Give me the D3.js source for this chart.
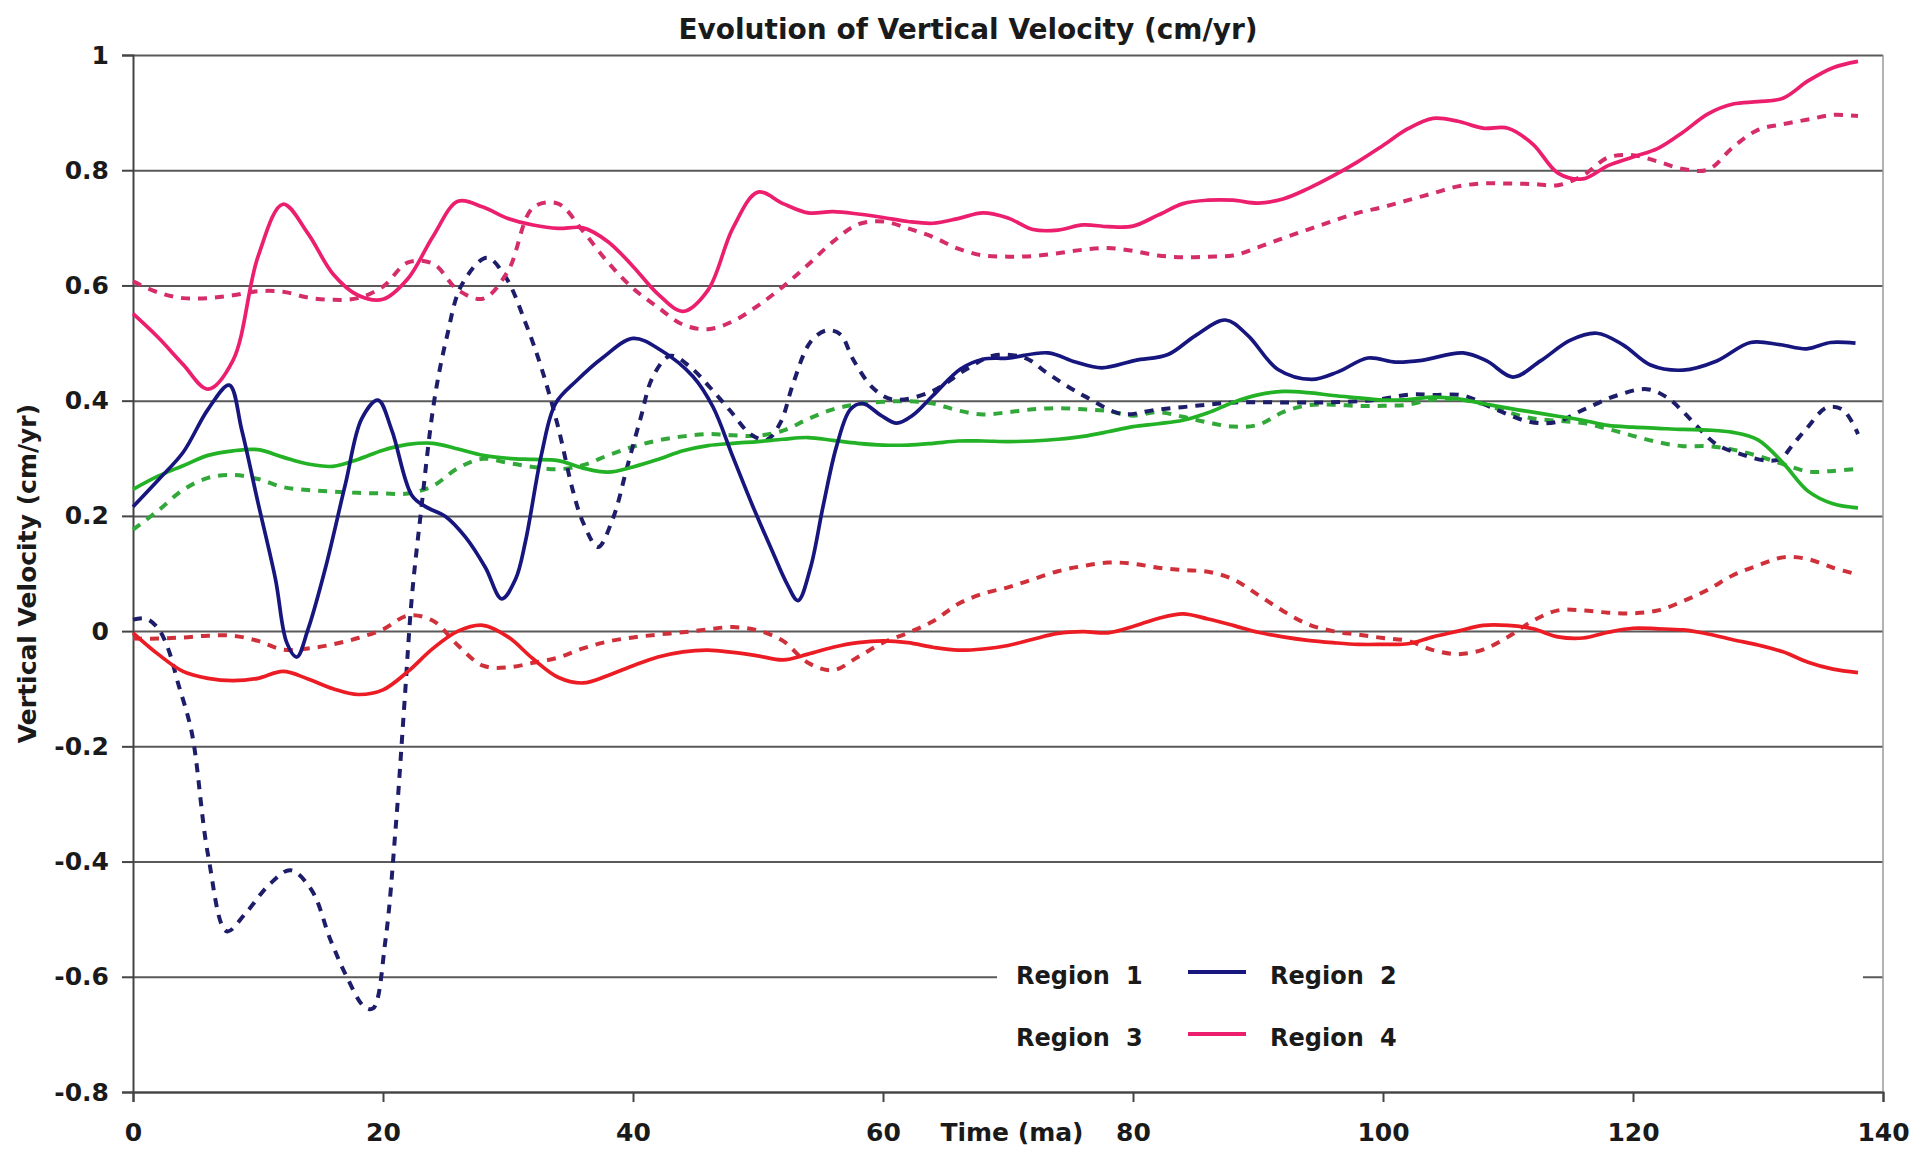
<!DOCTYPE html>
<html>
<head>
<meta charset="utf-8">
<script src="https://cdn.jsdelivr.net/npm/d3@7"></script>
<style>
    body { margin: 0; background: #fff; }
    text { font-family: "DejaVu Sans", Verdana, sans-serif; fill: #1a1a1a; font-weight: bold; }
</style>
</head>
<body>
<script>
// time steps (ma) shared by the smoother series
const timeGrid = [0, 2, 4, 6, 8, 10, 12, 14, 16, 18, 20, 22, 24, 26, 28, 30, 32, 34, 36, 38,
    40, 42, 44, 46, 48, 50, 52, 54, 56, 58, 60, 62, 64, 66, 68, 70, 72, 74, 76, 78,
    80, 82, 84, 86, 88, 90, 92, 94, 96, 98, 100, 102, 104, 106, 108, 110, 112, 114, 116, 118,
    120, 122, 124, 126, 128, 130, 132, 134, 136, 138];

const region1Solid = [0.246, 0.269, 0.287, 0.305, 0.313, 0.315, 0.302, 0.290, 0.286, 0.298,
    0.314, 0.324, 0.326, 0.316, 0.305, 0.300, 0.298, 0.296, 0.283, 0.276,
    0.285, 0.298, 0.313, 0.322, 0.326, 0.329, 0.333, 0.336, 0.331, 0.326,
    0.323, 0.323, 0.326, 0.330, 0.330, 0.329, 0.330, 0.333, 0.338, 0.346,
    0.355, 0.360, 0.366, 0.379, 0.397, 0.410, 0.416, 0.414, 0.409, 0.405,
    0.401, 0.402, 0.406, 0.403, 0.395, 0.387, 0.380, 0.373, 0.366, 0.357,
    0.354, 0.352, 0.350, 0.349, 0.345, 0.332, 0.292, 0.243, 0.221, 0.214];

const region1Dashed = [0.176, 0.209, 0.245, 0.266, 0.271, 0.264, 0.250, 0.245, 0.242, 0.240,
    0.239, 0.239, 0.252, 0.283, 0.299, 0.292, 0.285, 0.281, 0.288, 0.305,
    0.320, 0.331, 0.338, 0.342, 0.340, 0.339, 0.348, 0.368, 0.385, 0.394,
    0.398, 0.399, 0.395, 0.383, 0.376, 0.380, 0.385, 0.387, 0.385, 0.382,
    0.374, 0.380, 0.372, 0.362, 0.355, 0.358, 0.380, 0.392, 0.393, 0.391,
    0.391, 0.393, 0.402, 0.402, 0.394, 0.380, 0.369, 0.365, 0.361, 0.351,
    0.339, 0.328, 0.321, 0.321, 0.315, 0.304, 0.290, 0.277, 0.278, 0.282];

const region2SolidTime = [0, 2, 4, 6, 7.7, 8.7, 10, 11.4, 12.3, 13.1, 14, 15.4, 17, 18.3, 19.6,
    20.7, 22.3, 23.4, 25, 26.6, 28.2, 29.5, 30.6, 31.4, 32.7, 33.8, 35.5, 37.6, 40, 42.2,
    44.8, 46.4, 48, 49.6, 51.2, 52.3, 53.2, 54.2, 55.2, 56.3, 57.4, 58.4, 59.8, 61.1, 62.4,
    64, 66.2, 68, 70, 73.2, 75.4, 77.5, 80.2, 82.8, 85, 87.4, 89.2, 91.6, 94.3, 96.4,
    98.8, 101, 103.1, 106.4, 108.3, 110.4, 112.6, 115, 117.1, 119.2, 121.4, 124, 126.7, 129.4,
    131.8, 133.9, 135.8, 137.8];
const region2Solid = [0.216, 0.262, 0.310, 0.385, 0.427, 0.349, 0.223, 0.090, -0.020, -0.045, 0.003, 0.110, 0.256, 0.369, 0.401,
    0.349, 0.236, 0.216, 0.199, 0.163, 0.110, 0.056, 0.090, 0.156, 0.309, 0.395, 0.435, 0.475, 0.508, 0.488,
    0.442, 0.389, 0.302, 0.216, 0.136, 0.083, 0.053, 0.110, 0.216, 0.322, 0.385, 0.395, 0.375, 0.361, 0.375,
    0.409, 0.455, 0.472, 0.474, 0.483, 0.467, 0.457, 0.470, 0.480, 0.513, 0.540, 0.513, 0.454, 0.437, 0.450,
    0.474, 0.467, 0.470, 0.483, 0.469, 0.441, 0.469, 0.505, 0.517, 0.497, 0.462, 0.453, 0.469, 0.501,
    0.497, 0.490, 0.501, 0.500];

const region2DashedTime = [0, 1, 2, 2.8, 3.6, 4.7, 6, 7.5, 9, 10.9, 12.6, 14.3, 15.8, 17.1, 18.5,
    19.2, 20.2, 21, 21.7, 22.3, 23, 24.1, 25.1, 26.3, 28.3, 29.8, 31.4, 32.7, 34, 35.2,
    36, 37.2, 38.4, 39.5, 40.6, 41.6, 43, 44.6, 46.2, 47.8, 49.4, 50.7, 51.8, 52.8, 54.2,
    55.5, 56.6, 57.6, 59.2, 60.8, 63.8, 66.7, 68.8, 71.4, 73, 74.6, 76.2, 79.1, 81.8, 85,
    88.2, 91.6, 95.6, 99.6, 102.3, 104, 106.4, 109.1, 111.8, 113.9, 116, 118.7, 121.1, 122.7, 124,
    125.1, 126.7, 128.8, 130.7, 131.8, 132.8, 133.9, 135.5, 136.8, 138];
const region2Dashed = [0.020, 0.022, 0.005, -0.030, -0.090, -0.176, -0.388, -0.521, -0.490, -0.440, -0.415, -0.450, -0.536, -0.600, -0.652,
    -0.655, -0.536, -0.345, -0.130, 0.057, 0.200, 0.400, 0.510, 0.601, 0.648, 0.615, 0.535, 0.455, 0.355, 0.243,
    0.189, 0.146, 0.196, 0.282, 0.369, 0.442, 0.478, 0.458, 0.422, 0.382, 0.342, 0.332, 0.362, 0.429, 0.502,
    0.522, 0.515, 0.472, 0.422, 0.402, 0.415, 0.455, 0.478, 0.474, 0.450, 0.427, 0.407, 0.377, 0.384, 0.391,
    0.397, 0.397, 0.397, 0.402, 0.411, 0.410, 0.409, 0.384, 0.363, 0.363, 0.384, 0.409, 0.420, 0.406, 0.381,
    0.356, 0.324, 0.306, 0.296, 0.299, 0.324, 0.352, 0.388, 0.384, 0.342];

const region3Solid = [-0.003, -0.040, -0.070, -0.082, -0.086, -0.082, -0.070, -0.083, -0.100, -0.110,
    -0.102, -0.070, -0.030, 0.000, 0.010, -0.010, -0.048, -0.080, -0.090, -0.077,
    -0.060, -0.045, -0.036, -0.033, -0.037, -0.043, -0.050, -0.040, -0.028, -0.020,
    -0.017, -0.020, -0.028, -0.033, -0.031, -0.025, -0.014, -0.004, -0.001, -0.003,
    0.008, 0.022, 0.030, 0.021, 0.010, -0.002, -0.010, -0.016, -0.020, -0.023,
    -0.023, -0.022, -0.010, 0.000, 0.010, 0.010, 0.004, -0.010, -0.012, -0.002,
    0.005, 0.004, 0.002, -0.005, -0.015, -0.024, -0.036, -0.054, -0.066, -0.072];

const region3Dashed = [-0.013, -0.013, -0.011, -0.008, -0.008, -0.017, -0.032, -0.030, -0.023, -0.012,
    0.003, 0.027, 0.018, -0.025, -0.060, -0.063, -0.055, -0.046, -0.030, -0.018,
    -0.011, -0.006, -0.002, 0.003, 0.007, 0.001, -0.017, -0.055, -0.068, -0.045,
    -0.020, -0.003, 0.017, 0.047, 0.065, 0.076, 0.090, 0.104, 0.113, 0.119,
    0.117, 0.110, 0.106, 0.103, 0.090, 0.063, 0.035, 0.012, 0.000, -0.006,
    -0.012, -0.017, -0.033, -0.040, -0.032, -0.010, 0.018, 0.036, 0.036, 0.032,
    0.031, 0.036, 0.052, 0.072, 0.097, 0.114, 0.128, 0.125, 0.110, 0.098];

const region4Solid = [0.551, 0.510, 0.463, 0.420, 0.470, 0.650, 0.741, 0.690, 0.620, 0.583,
    0.576, 0.612, 0.685, 0.746, 0.736, 0.716, 0.705, 0.699, 0.700, 0.676,
    0.633, 0.585, 0.555, 0.592, 0.700, 0.762, 0.742, 0.726, 0.728, 0.724,
    0.718, 0.711, 0.708, 0.716, 0.726, 0.717, 0.697, 0.696, 0.705, 0.702,
    0.703, 0.722, 0.742, 0.748, 0.748, 0.743, 0.750, 0.768, 0.790, 0.815,
    0.843, 0.872, 0.890, 0.885, 0.873, 0.873, 0.845, 0.795, 0.785, 0.808,
    0.823, 0.838, 0.866, 0.898, 0.915, 0.919, 0.925, 0.955, 0.978, 0.989];

const region4Dashed = [0.607, 0.588, 0.578, 0.578, 0.583, 0.590, 0.589, 0.579, 0.575, 0.578,
    0.598, 0.640, 0.638, 0.592, 0.577, 0.625, 0.735, 0.742, 0.694, 0.640,
    0.595, 0.562, 0.532, 0.524, 0.538, 0.565, 0.598, 0.636, 0.676, 0.706,
    0.711, 0.699, 0.684, 0.664, 0.652, 0.650, 0.651, 0.656, 0.662, 0.665,
    0.660, 0.652, 0.649, 0.650, 0.652, 0.666, 0.682, 0.697, 0.712, 0.726,
    0.736, 0.748, 0.760, 0.772, 0.777, 0.777, 0.776, 0.774, 0.791, 0.822,
    0.826, 0.815, 0.802, 0.801, 0.840, 0.870, 0.880, 0.888, 0.896, 0.894];

const xTicks = [0, 20, 40, 60, 80, 100, 120, 140];
const yTicks = [1, 0.8, 0.6, 0.4, 0.2, 0, -0.2, -0.4, -0.6, -0.8];
const yTickLabels = ['1', '0.8', '0.6', '0.4', '0.2', '0', '-0.2', '-0.4', '-0.6', '-0.8'];
const legendLabels = ['Region', 'Region', 'Region', 'Region'];
const legendNumbers = ['1', '2', '3', '4'];

const colors = {
    green: '#23b126',
    greenDash: '#33a83a',
    navy: '#16167e',
    navyDash: '#1d1d6a',
    red: '#ec1c24',
    redDash: '#d0303a',
    pink: '#ec1e6e',
    pinkDash: '#d42d6a'
};

const width = 1915;
const height = 1152;
const margin = {top: 55, right: 32, bottom: 60, left: 133};
const fontFamily = '"DejaVu Sans", Verdana, sans-serif';

const svg = d3.select('body').append('svg')
    .attr('width', width)
    .attr('height', height);

const x = d3.scaleLinear()
    .domain([0, 140])
    .range([margin.left, width - margin.right]);

const y = d3.scaleLinear()
    .domain([-0.8, 1])
    .range([height - margin.bottom, margin.top]);

// horizontal gridlines
svg.append('g')
    .attr('class', 'grid')
    .attr('transform', `translate(${margin.left},0)`)
    .call(d3.axisLeft(y).tickValues(yTicks).tickSize(-(x(140) - x(0))).tickFormat(''))
    .call(g => g.select('.domain').remove())
    .call(g => g.selectAll('line').attr('stroke', '#5a5a5a').attr('stroke-width', 2));

// thin right border of the plot area
svg.append('line')
    .attr('x1', x(140)).attr('x2', x(140))
    .attr('y1', y(1)).attr('y2', y(-0.8))
    .attr('stroke', '#9a9a9a')
    .attr('stroke-width', 1.5);

// y axis
svg.append('g')
    .attr('transform', `translate(${margin.left},0)`)
    .call(d3.axisLeft(y).tickValues(yTicks).tickSize(11).tickPadding(13)
        .tickFormat((d, i) => yTickLabels[i]))
    .call(g => g.select('.domain').attr('stroke', '#444').attr('stroke-width', 2))
    .call(g => g.selectAll('.tick line').attr('stroke', '#444').attr('stroke-width', 2))
    .call(g => g.selectAll('text').attr('font-size', 25).attr('fill', '#1a1a1a')
        .attr('font-weight', 'bold').style('font-family', fontFamily));

// x axis
svg.append('g')
    .attr('transform', `translate(0,${y(-0.8)})`)
    .call(d3.axisBottom(x).tickValues(xTicks).tickSize(10).tickPadding(21).tickFormat(d3.format('d')))
    .call(g => g.select('.domain').attr('stroke', '#444').attr('stroke-width', 2))
    .call(g => g.selectAll('.tick line').attr('stroke', '#444').attr('stroke-width', 2))
    .call(g => g.selectAll('text').attr('font-size', 25).attr('fill', '#1a1a1a')
        .attr('font-weight', 'bold').style('font-family', fontFamily));

const series = [
    {time: timeGrid, values: region1Dashed, color: colors.greenDash, dash: '9,8'},
    {time: timeGrid, values: region3Dashed, color: colors.redDash, dash: '9,8'},
    {time: region2DashedTime, values: region2Dashed, color: colors.navyDash, dash: '9,8'},
    {time: timeGrid, values: region4Dashed, color: colors.pinkDash, dash: '9,8'},
    {time: timeGrid, values: region1Solid, color: colors.green, dash: null},
    {time: timeGrid, values: region3Solid, color: colors.red, dash: null},
    {time: region2SolidTime, values: region2Solid, color: colors.navy, dash: null},
    {time: timeGrid, values: region4Solid, color: colors.pink, dash: null}
];

const line = d3.line()
    .x(d => x(d[0]))
    .y(d => y(d[1]))
    .curve(d3.curveCatmullRom.alpha(0.5));

svg.append('g')
    .selectAll('path')
    .data(series)
    .enter()
    .append('path')
    .attr('d', s => line(d3.zip(s.time, s.values)))
    .attr('fill', 'none')
    .attr('stroke', s => s.color)
    .attr('stroke-width', s => s.dash ? 4 : 3.7)
    .attr('stroke-dasharray', s => s.dash)
    .attr('stroke-linejoin', 'round');

// legend (white box hides part of the -0.6 gridline)
const legend = svg.append('g');

legend.append('rect')
    .attr('x', 997)
    .attr('y', 942)
    .attr('width', 866)
    .attr('height', 128)
    .attr('fill', '#fff');

const legendSamples = [null, colors.navy, null, colors.pink];

legendLabels.forEach((label, i) => {
    const col = i % 2;
    const row = Math.floor(i / 2);
    const lx = 1016 + col * 254;
    const ly = 984 + row * 62;
    const item = legend.append('text')
        .attr('x', lx)
        .attr('y', ly)
        .attr('font-size', 24);
    item.append('tspan').text(label);
    item.append('tspan').attr('x', lx + 110).text(legendNumbers[i]);
    if (legendSamples[i]) {
        legend.append('line')
            .attr('x1', lx - 82).attr('x2', lx - 24)
            .attr('y1', ly - 12).attr('y2', ly - 12)
            .attr('stroke', legendSamples[i])
            .attr('stroke-width', 4);
    }
});

// titles
svg.append('text')
    .attr('x', 968)
    .attr('y', 39)
    .attr('text-anchor', 'middle')
    .attr('font-size', 28)
    .text('Evolution of Vertical Velocity (cm/yr)');

svg.append('text')
    .attr('transform', `translate(36,${(y(1) + y(-0.8)) / 2}) rotate(-90)`)
    .attr('text-anchor', 'middle')
    .attr('font-size', 25)
    .text('Vertical Velocity (cm/yr)');

svg.append('text')
    .attr('x', 1012)
    .attr('y', 1141)
    .attr('text-anchor', 'middle')
    .attr('font-size', 25)
    .text('Time (ma)');
</script>
</body>
</html>
